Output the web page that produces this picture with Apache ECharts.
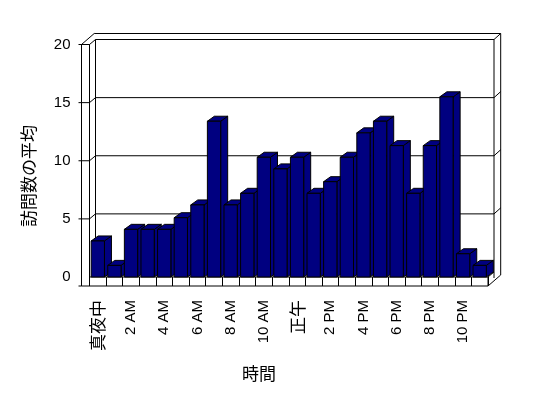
<!DOCTYPE html>
<html>
<head>
<meta charset="utf-8">
<script src="https://cdn.jsdelivr.net/npm/echarts@6/dist/echarts.min.js"></script>
<style>
  html, body { margin: 0; padding: 0; background: #fff; }
  #chart { width: 548px; height: 398px; }
</style>
</head>
<body>
<div id="chart"></div>
<script>
// 時間ごとの訪問数の平均
var hours = ['真夜中', '1 AM', '2 AM', '3 AM', '4 AM', '5 AM', '6 AM', '7 AM', '8 AM', '9 AM', '10 AM', '11 AM',
             '正午', '1 PM', '2 PM', '3 PM', '4 PM', '5 PM', '6 PM', '7 PM', '8 PM', '9 PM', '10 PM', '11 PM'];
var visits = [3.1, 1.0, 4.1, 4.1, 4.1, 5.1, 6.2, 13.4, 6.2, 7.2, 10.3, 9.3,
              10.3, 7.2, 8.2, 10.3, 12.4, 13.4, 11.3, 7.2, 11.3, 15.5, 2.0, 1.0];
var yTicks = [5, 10, 15, 20];

var FONT = '"Liberation Sans", Arial, "Noto Sans CJK JP", sans-serif';
var CJK = '"Noto Sans CJK JP", sans-serif';

// 奥行き (棒) と壁の厚み
var DX = 6, DY = -5, OX = 12.7, OY = -11, WALL = 8, FLOOR = 9;

function renderFrame(params, api) {
	var cs = params.coordSys;
	var x0 = cs.x, x1 = cs.x + cs.width;
	var yT = cs.y, y0 = cs.y + cs.height;
	var kids = [];
	function L(a, b) {
		kids.push({ type: 'line', shape: { x1: a[0], y1: a[1], x2: b[0], y2: b[1] },
			style: { stroke: '#000', lineWidth: 1 } });
	}
	// 目盛線 (奥の壁)
	yTicks.forEach(function (v) {
		var y = api.coord([0, v])[1];
		L([x0 - WALL - 3, y], [x0, y]);
		L([x0, y], [x0 + DX, y + DY]);
		L([x0 + DX, y + DY], [x1 + DX, y + DY]);
		L([x1 + DX, y + DY], [x1 + OX, y + OY]);
	});
	// 左の壁
	L([x0 - WALL, yT], [x0 - WALL, y0 + FLOOR]);
	L([x0, yT], [x0, y0]);
	L([x0 - WALL, yT], [x0, yT]);
	L([x0 - WALL, yT], [x0 - WALL + OX, yT + OY]);
	L([x0 - WALL - 3, y0 + FLOOR], [x0 - WALL, y0 + FLOOR]);
	// 奥の壁
	L([x0 - WALL + OX, yT + OY], [x1 + OX, yT + OY]);
	L([x0 + DX, yT + DY], [x0 + DX, y0 + DY]);
	L([x1 + DX, yT + DY], [x1 + DX, y0 + 1]);
	L([x1 + OX, yT + OY], [x1 + OX, y0 + FLOOR + OY]);
	// 床
	L([x0, y0], [x1, y0]);
	L([x0 - WALL, y0 + FLOOR], [x1, y0 + FLOOR]);
	L([x1, y0], [x1, y0 + FLOOR]);
	L([x1, y0 + FLOOR], [x1 + OX, y0 + FLOOR + OY]);
	L([x1, y0], [x1 + DX, y0 + DY]);
	return { type: 'group', children: kids };
}

function renderBar(params, api) {
	var base = api.coord([api.value(0), 0]);
	var top = api.coord([api.value(0), api.value(1)]);
	var w = api.size([1, 0])[0] * 0.8;
	var xl = base[0] - w / 2, xr = base[0] + w / 2;
	var y0 = base[1], y1 = top[1];
	var dx = 7, dy = -5;
	var st = { fill: '#000080', stroke: '#000', lineWidth: 1 };
	return {
		type: 'group',
		children: [
			{ type: 'polygon', shape: { points: [[xr, y1], [xr + dx, y1 + dy], [xr + dx, y0 + dy], [xr, y0]] }, style: st },
			{ type: 'polygon', shape: { points: [[xl, y1], [xl + dx, y1 + dy], [xr + dx, y1 + dy], [xr, y1]] }, style: st },
			{ type: 'rect', shape: { x: xl, y: y1, width: w, height: y0 - y1 }, style: st }
		]
	};
}

var barData = [];
for (var i = 0; i < hours.length; i++) barData.push([i, visits[i]]);

var option = {
	animation: false,
	backgroundColor: '#fff',
	grid: { left: 89.5, right: 60, top: 44.5, bottom: 121 },
	xAxis: {
		type: 'category',
		data: hours,
		boundaryGap: true,
		axisLine: { show: false },
		axisTick: { show: true, interval: 0, length: 9, lineStyle: { color: '#000', width: 1 } },
		axisLabel: {
			interval: 1,
			rotate: 90,
			margin: 23,
			color: '#000',
			fontSize: 15,
			fontFamily: FONT,
			formatter: function (v) {
				return /[^\x00-\x7f]/.test(v) ? '{j|' + v + '}' : v;
			},
			rich: { j: { fontSize: 17, fontFamily: CJK, color: '#000' } }
		},
		splitLine: { show: false }
	},
	yAxis: {
		type: 'value',
		min: 0,
		max: 20,
		interval: 5,
		axisLine: { show: false },
		axisTick: { show: false },
		splitLine: { show: false },
		axisLabel: { margin: 19, color: '#000', fontSize: 15, fontFamily: FONT }
	},
	graphic: [
		{ type: 'text', x: 29, y: 176, rotation: Math.PI / 2,
		  style: { text: '訪問数の平均', fontSize: 17, fontFamily: CJK, fill: '#000', align: 'center', verticalAlign: 'middle' } },
		{ type: 'text', x: 259, y: 374,
		  style: { text: '時間', fontSize: 17, fontFamily: CJK, fill: '#000', align: 'center', verticalAlign: 'middle' } }
	],
	series: [
		{ type: 'custom', z: 1, silent: true, renderItem: renderFrame, data: [[0, 0]] },
		{ type: 'custom', z: 2, silent: true, renderItem: renderBar, data: barData }
	]
};

var myChart = echarts.init(document.getElementById('chart'));
myChart.setOption(option);
</script>
</body>
</html>
